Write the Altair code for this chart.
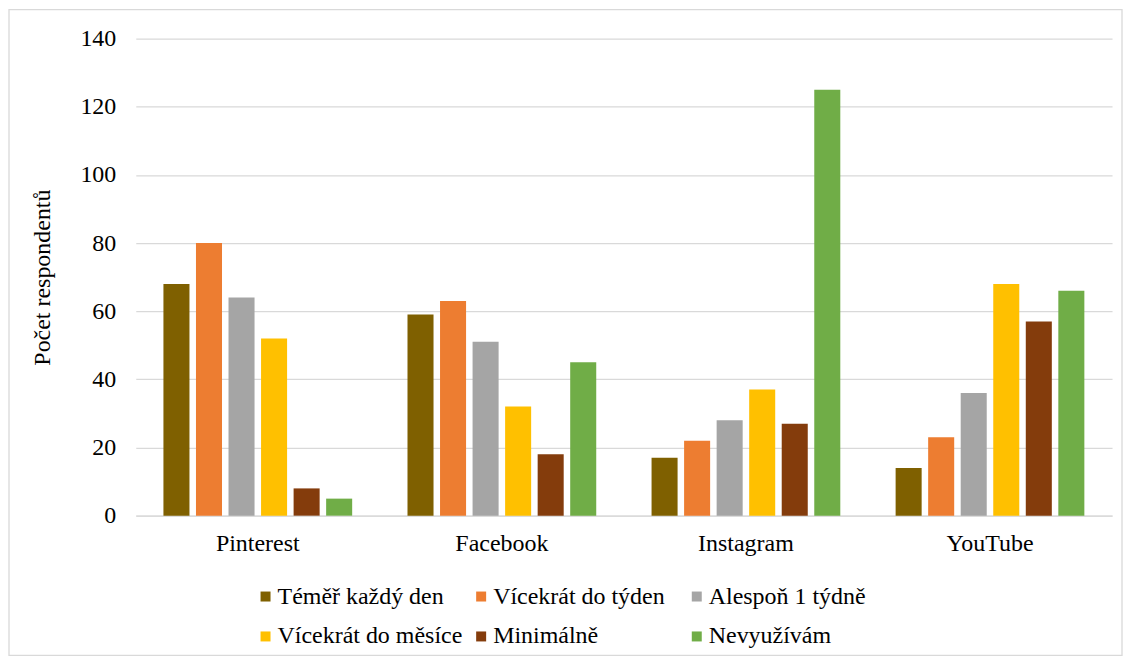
import altair as alt
import pandas as pd

platforms = ["Pinterest", "Facebook", "Instagram", "YouTube"]
series = ["Téměř každý den", "Vícekrát do týden", "Alespoň 1 týdně",
          "Vícekrát do měsíce", "Minimálně", "Nevyužívám"]
colors = ["#7F6000", "#ED7D31", "#A5A5A5", "#FFC000", "#843C0C", "#70AD47"]

temer_kazdy_den = [68, 59, 17, 14]
vicekrat_tyden = [80, 63, 22, 23]
alespon_tydne = [64, 51, 28, 36]
vicekrat_mesice = [52, 32, 37, 68]
minimalne = [8, 18, 27, 57]
nevyuzivam = [5, 45, 125, 66]

values = [temer_kazdy_den, vicekrat_tyden, alespon_tydne,
          vicekrat_mesice, minimalne, nevyuzivam]

rows = []
for s, vals in zip(series, values):
    for p, v in zip(platforms, vals):
        rows.append({"platform": p, "series": s, "value": v})
df = pd.DataFrame(rows)

FONT = "Liberation Serif, Times New Roman, serif"
GRID = "#d9d9d9"
FS = 24

bars = alt.Chart(df).mark_bar().encode(
    x=alt.X("platform:N", sort=platforms, title=None,
            scale=alt.Scale(paddingInner=0.2, paddingOuter=0.1),
            axis=alt.Axis(labelAngle=0, ticks=False, domainColor=GRID,
                          domainWidth=1.3, labelFontSize=FS, labelFont=FONT,
                          labelPadding=16, labelColor="#000000")),
    xOffset=alt.XOffset("series:N", sort=series,
                        scale=alt.Scale(paddingInner=0.2, paddingOuter=0.1)),
    y=alt.Y("value:Q", title="Počet respondentů",
            scale=alt.Scale(domain=[0, 140], nice=False),
            axis=alt.Axis(values=list(range(0, 141, 20)), ticks=False,
                          domain=False, gridColor=GRID, gridWidth=1.3,
                          labelFontSize=FS, labelFont=FONT, labelPadding=20,
                          labelColor="#000000", titleFontSize=FS,
                          titleFont=FONT,
                          titleFontWeight="normal", titlePadding=25,
                          titleColor="#000000")),
    color=alt.Color("series:N", sort=series,
                    scale=alt.Scale(domain=series, range=colors),
                    legend=alt.Legend(title=None, orient="none",
                                      legendX=118, legendY=547,
                                      direction="horizontal", columns=3,
                                      gridAlign="all",
                                      symbolType="square", symbolSize=100,
                                      symbolStrokeWidth=0, labelFont=FONT,
                                      labelFontSize=FS, labelColor="#000000",
                                      labelOffset=0, columnPadding=6,
                                      rowPadding=16, labelLimit=400)),
)

frame_df = pd.DataFrame({"k": [0]})
frame = alt.Chart(frame_df).mark_rect(
    fill="transparent", stroke=GRID, strokeWidth=1.3
).encode(
    x=alt.value(-127), x2=alt.value(988),
    y=alt.value(-29), y2=alt.value(618)
)

chart = alt.layer(bars, frame).properties(
    width=978, height=478, padding=0
).configure(font=FONT).configure_view(stroke=None)

chart.save("out.html", embed_options={"renderer": "svg", "actions": False})
